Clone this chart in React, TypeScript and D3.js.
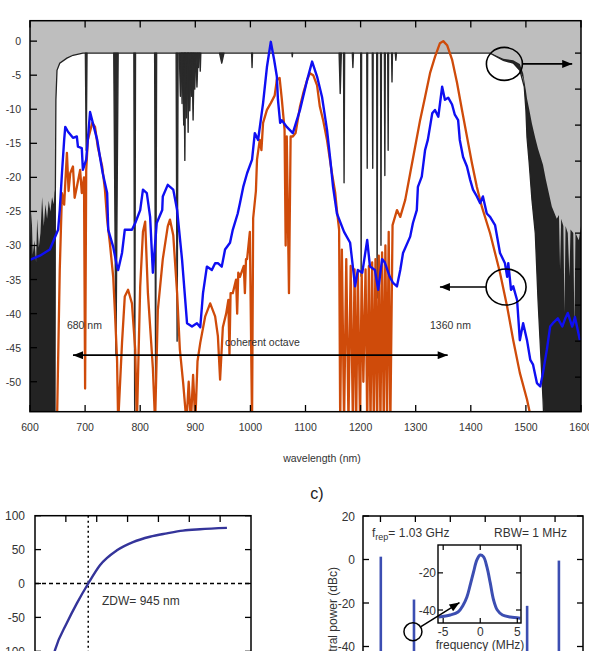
import React from 'react';
import * as d3 from 'd3';

// ---- main spectrum: wavelength (nm) vs power (dB) ----
const measured: [number, number][] = [
  [600, -32.1], [618, -31.5], [636, -30.6], [651, -27.7], [654, -24.8], [658, -19.4], [662, -14.5], [664, -12.6],
  [669, -13.3], [678, -14.2], [685, -14], [687, -15.5], [694, -15.7], [696, -18.9], [702, -17.4], [709, -10.4],
  [714, -12], [722, -14.5], [727, -17], [732, -19.4], [740, -22.3], [742, -27.7], [751, -30.2], [758, -33.1],
  [760, -33.6], [767, -31.1], [772, -27.7], [785, -27.7], [791, -26.7], [800, -24.8], [805, -21.8], [812, -22.3],
  [818, -25.8], [823, -34], [830, -26.7], [840, -24.8], [841, -22.8], [850, -21.1], [860, -21.8], [867, -24.8],
  [876, -32.1], [885, -41.4], [894, -41.9], [903, -41.4], [909, -42], [914, -37], [921, -33.1], [930, -33.6],
  [936, -32.6], [941, -32.6], [948, -33.1], [954, -30.6], [963, -29.6], [968, -27.7], [977, -25.3], [981, -23.8],
  [987, -21.4], [994, -19.4], [1003, -17.4], [1008, -13.5], [1014, -14.5], [1023, -9.1], [1030, -3.8], [1037, -0.1],
  [1043, -2.7], [1048, -5.2], [1050, -8.6], [1054, -12], [1057, -11.6], [1066, -12.6], [1077, -13.5], [1090, -10.1],
  [1103, -5.7], [1112, -3], [1121, -5.2], [1130, -8.2], [1139, -13], [1145, -17.4], [1150, -21.4], [1157, -25.3],
  [1170, -28], [1181, -29.6], [1190, -36], [1195, -33.6], [1203, -34], [1212, -29.2], [1217, -33.1], [1226, -33.6],
  [1232, -36.5], [1239, -32], [1244, -32.5], [1253, -34.6], [1259, -35.5], [1266, -36], [1272, -33.6], [1277, -31.1],
  [1290, -28.7], [1295, -26.7], [1302, -24.8], [1304, -21.4], [1311, -19.9], [1317, -16], [1322, -14.5], [1330, -10.6],
  [1335, -10.1], [1341, -11.1], [1348, -6.7], [1353, -8.6], [1359, -8.3], [1366, -9.3], [1371, -10.8], [1377, -11.6],
  [1380, -14.5], [1386, -17], [1393, -18.4], [1399, -20.4], [1404, -21.8], [1411, -22.8], [1417, -23.8], [1422, -22.8],
  [1429, -25.3], [1435, -25.8], [1444, -27], [1453, -31.1], [1462, -32.6], [1466, -34.6], [1468, -32.6], [1473, -36.5],
  [1477, -36], [1484, -38], [1489, -43.9], [1495, -41.4], [1502, -43.9], [1508, -46.8], [1513, -47.5], [1520, -50.2],
  [1526, -50.7], [1531, -48.7], [1538, -45.3], [1544, -41.9], [1549, -41.4], [1558, -40.7], [1566, -41.9], [1571, -40.8],
  [1576, -39.9], [1584, -41.9], [1589, -40.5], [1598, -43.9],
];

const simulated: [number, number][] = [
  [649, -56], [654, -33.6], [658, -22.3], [662, -24], [667, -16.4], [670, -22], [673, -19.4], [678, -18.4],
  [681, -23], [685, -21.4], [691, -18.9], [694, -22.3], [698, -20], [700, -51], [702, -19], [705, -14.5],
  [713, -12], [718, -12.6], [723, -15.5], [731, -18.4], [736, -21.8], [740, -26.2], [745, -29.7], [751, -34.6],
  [754, -39.5], [758, -46.8], [760, -56], [767, -44.3], [772, -37.5], [778, -36.5], [785, -38.5], [791, -45.3],
  [794, -56], [800, -36], [805, -28], [809, -26.5], [814, -37], [823, -48], [827, -56], [832, -39.5],
  [841, -32], [850, -27.2], [854, -26.2], [860, -28.5], [867, -37], [872, -45.3], [878, -50.2], [884, -56],
  [888, -50], [892, -56], [896, -49], [900, -56], [904, -47], [909, -44.3], [918, -40.4], [927, -38.5],
  [936, -40.4], [941, -43.3], [945, -49.7], [950, -42], [956, -40], [960, -38], [962, -46], [964, -37],
  [968, -37], [974, -35], [976, -40], [978, -34], [981, -34.6], [988, -33], [990, -37], [992, -32],
  [994, -32], [999, -28], [1003, -56], [1005, -26], [1010, -22], [1012, -17.4], [1017, -14.5], [1020, -16],
  [1023, -12], [1030, -10.1], [1037, -9.1], [1044, -8], [1048, -5.7], [1053, -5.4], [1057, -8.5], [1062, -13],
  [1064, -30], [1066, -14], [1070, -37], [1073, -14], [1077, -14], [1082, -13.5], [1090, -9.6], [1096, -7.6],
  [1103, -5.7], [1108, -4.7], [1114, -5], [1121, -6.5], [1126, -9.6], [1132, -11.6], [1139, -14.5], [1148, -19.4],
  [1154, -22.3], [1157, -24.8], [1161, -27.7], [1163, -56], [1166, -30.6], [1170, -56], [1174, -32], [1178, -56],
  [1182, -33], [1186, -56], [1189, -33.5], [1192, -56], [1195, -34], [1199, -56], [1202, -34], [1205, -50],
  [1209, -33.5], [1212, -56], [1215, -33], [1218, -56], [1221, -32.5], [1224, -56], [1227, -32], [1230, -56],
  [1233, -31.5], [1236, -56], [1239, -31], [1242, -56], [1245, -30], [1248, -56], [1251, -28], [1254, -56],
  [1258, -27], [1266, -24.8], [1272, -25.8], [1281, -23.3], [1290, -19.4], [1299, -15.5], [1308, -11.6], [1317, -8.2],
  [1326, -4.7], [1335, -2.3], [1344, -0.3], [1350, 0], [1357, -0.6], [1366, -2.7], [1375, -6.1], [1384, -10.1],
  [1393, -14], [1402, -17.9], [1411, -21.4], [1420, -24.3], [1435, -28.2], [1453, -34], [1466, -39], [1477, -43.9],
  [1489, -48.7], [1502, -52.6], [1511, -56],
];

// fibre transmission, right axis (dB)
const transmission: [number, number][] = [
  [645, -52], [646, -20], [647, -6.5], [649, -2.4], [654, -1.4], [667, -0.7], [678, -0.3], [696, 0],
  [1435, 0], [1459, -1.0], [1477, -1.4], [1489, -2.4], [1497, -4.7], [1500, -7.9], [1502, -11.7], [1506, -15.3],
  [1511, -20.4], [1517, -25], [1522, -34.3], [1531, -48], [1533, -52],
];

// noisy edges of the transmission: [wl, top]
const leftNoise: [number, number][] = [
  [600, -27], [603, -22], [605, -28], [608, -26], [611, -29], [613, -23], [616, -27], [619, -25],
  [622, -20], [625, -24], [628, -21], [631, -23], [634, -20.5], [637, -22], [640, -20], [643, -21],
  [645, -19], [646, -20],
];
// [wl, low, high]
const rightNoise: [number, number, number][] = [
  [1435, 0, 0], [1459, -1.0, -0.8], [1477, -1.4, -1.0], [1489, -2.4, -1.5], [1495, -3.5, -2.8], [1497, -4.7, -3.8],
  [1500, -7.9, -5.2], [1502, -11.7, -6.3], [1506, -15.3, -7.8], [1511, -20.4, -9.8], [1517, -25, -11.8],
  [1522, -34.3, -13.3], [1531, -48, -15.5], [1536, -52, -17.5], [1547, -52, -21.3], [1556, -52, -23],
  [1560, -52, -22.5], [1562, -52, -30], [1564, -52, -23], [1568, -52, -24], [1570, -52, -36], [1572, -52, -24],
  [1576, -52, -25], [1579, -52, -31], [1581, -52, -24.5], [1586, -52, -25], [1588, -52, -38], [1590, -52, -25],
  [1596, -52, -26], [1600, -52, -24],
];

// absorption dips: [wl, depth (right axis dB), half width nm]
const dips: [number, number, number][] = [
  [702, -13.5, 1.5], [756, -42, 4], [790, -50, 1.5], [828, -46, 1.8], [867, -40, 1.8],
  [873, -6, 2], [876, -7, 1.5], [879, -10, 2], [881, -14.9, 1.5], [884, -9, 2.5], [887, -11, 1.5],
  [890, -8, 2.5], [893, -6, 1.5], [896, -9.3, 2], [899, -5, 2], [903, -4.7, 2], [906, -2, 1.5], [909, -2.5, 1],
  [948, -1.4, 4], [1003, -2, 0.8], [1076, -0.5, 0.6],
  [1163, -5.6, 2], [1170, -18, 1], [1186, -2, 1], [1201, -31, 0.8], [1212, -16, 0.8], [1222, -16, 0.8],
  [1230, -34, 0.8], [1237, -26.7, 0.8], [1244, -17, 0.8], [1250, -13.5, 0.8], [1257, -4, 0.8], [1264, -1, 1],
];

const wlTicks = [600, 700, 800, 900, 1000, 1100, 1200, 1300, 1400, 1500, 1600];
const dbTicks = [0, -5, -10, -15, -20, -25, -30, -35, -40, -45, -50];
const rightTicks = [0, -5, -10, -15, -20, -25, -30, -35, -40, -45];

// ---- dispersion ----
const dispersion: [number, number][] = [
  [700, -125], [730, -98], [807, -58], [872, -29], [945, 0], [1021, 27], [1131, 49], [1235, 61],
  [1345, 69], [1455, 74], [1559, 78], [1669, 80], [1844, 82],
];
const dispXTicks = [800, 1000, 1200, 1400, 1600, 1800];
const dispYTicks = [100, 50, 0, -50, -100];
const zdw = 945;

// ---- RF spectrum ----
const rfPeaks: [number, number][] = [[201, 1.3], [296, -18.4], [620, -21.3], [711, -0.5]];
const rfXTicks = [200, 300, 400, 500, 600, 700];
const rfYTicks = [20, 0, -20, -40];
const beat: [number, number][] = [
  [-5.6, -43.8], [-4.05, -42.7], [-3.0, -41.1], [-2.3, -37.3], [-1.8, -33], [-1.35, -26.5], [-0.9, -19.5],
  [-0.45, -13], [0, -10.4], [0.45, -11.4], [0.9, -16.8], [1.35, -25.4], [1.8, -34.6], [2.3, -40],
  [3.0, -42.7], [4.05, -43.8], [5.4, -44.4],
];
const insetXTicks = [-5, 0, 5];
const insetYTicks = [-20, -40];

const font = 'Liberation Sans, Arial, sans-serif';
const txt = '#333';

const App: React.FC = () => {
  // main plot
  const x = d3.scaleLinear().domain([600, 1600]).range([30, 581]);
  const y = d3.scaleLinear().domain([-54.4, 3]).range([411.7, 20.7]);
  const yR = d3.scaleLinear().domain([-49.8, 4.5]).range([411.7, 20.7]);
  const line = d3.line<[number, number]>().x(d => x(d[0])).y(d => y(d[1]));
  const transLine = d3.line<[number, number]>().x(d => x(d[0])).y(d => yR(d[1]));
  const transArea = d3.area<[number, number]>().x(d => x(d[0])).y0(yR(-52)).y1(d => yR(d[1]));
  const leftArea = d3.area<[number, number]>().x(d => x(d[0])).y0(yR(-52)).y1(d => yR(d[1]));
  const rightArea = d3.area<[number, number, number]>().x(d => x(d[0])).y0(d => yR(d[1])).y1(d => yR(d[2]));

  // dispersion plot
  const dx = d3.scaleLinear().domain([600, 2000]).range([35, 251]);
  const dy = d3.scaleLinear().domain([-150, 100]).range([685.2, 515.7]);
  const dLine = d3.line<[number, number]>().x(d => dx(d[0])).y(d => dy(d[1])).curve(d3.curveMonotoneX);

  // RF plot
  const rx = d3.scaleLinear().domain([150, 780]).range([363, 583]);
  const ry = d3.scaleLinear().domain([-80, 20]).range([733.5, 516]);
  const ix = d3.scaleLinear().domain([-5.7, 5.5]).range([438, 521]);
  const iy = d3.scaleLinear().domain([-47, -5]).range([623, 545]);
  const iLine = d3.line<[number, number]>().x(d => ix(d[0])).y(d => iy(d[1])).curve(d3.curveCatmullRom);

  const blue = '#0f0ff2';
  const orange = '#cf4b0a';
  const navy = '#34349a';
  const rfBlue = '#3c4eb2';

  return (
    <svg width={589} height={651} style={{ position: 'absolute', left: 0, top: 0 }} fontFamily={font}>
      <defs>
        <clipPath id="mainClip"><rect x={30} y={20.7} width={551} height={391} /></clipPath>
        <clipPath id="dispClip"><rect x={35} y={515.7} width={216} height={170} /></clipPath>
        <clipPath id="insetClip"><rect x={438} y={545} width={83} height={78} /></clipPath>
        <marker id="arrow" viewBox="0 0 10 8" refX={10} refY={4} markerWidth={11} markerHeight={8}
          markerUnits="userSpaceOnUse" orient="auto-start-reverse">
          <path d="M0,0 L10,4 L0,8 Z" fill="#000" />
        </marker>
      </defs>

      {/* ---------- main spectrum ---------- */}
      <rect x={30} y={20.7} width={551} height={391} fill="#bebebe" />
      <g clipPath="url(#mainClip)">
        <path d={transArea(transmission) ?? ''} fill="#fff" />
        <path d={leftArea(leftNoise) ?? ''} fill="#232323" />
        <path d={rightArea(rightNoise) ?? ''} fill="#232323" />
        {dips.map((d, i) => (
          <path key={i}
            d={`M${x(d[0] - d[2])},${yR(0)} L${x(d[0])},${yR(d[1])} L${x(d[0] + d[2])},${yR(0)} Z`}
            fill="#2a2a2a" stroke="#2a2a2a" strokeWidth={1.4} strokeLinejoin="round" />
        ))}
        <path d={transLine(transmission) ?? ''} fill="none" stroke="#222" strokeWidth={1.3} />
        <path d={line(simulated) ?? ''} fill="none" stroke={orange} strokeWidth={2.3} strokeLinejoin="round" />
        <path d={line(measured) ?? ''} fill="none" stroke={blue} strokeWidth={2.4} strokeLinejoin="round" />
      </g>
      <rect x={30} y={20.7} width={551} height={391} fill="none" stroke="#000" strokeWidth={1.5} />
      {wlTicks.map(t => (
        <g key={t}>
          <line x1={x(t)} x2={x(t)} y1={411.7} y2={405} stroke="#000" strokeWidth={1.3} />
          <line x1={x(t)} x2={x(t)} y1={20.7} y2={27.4} stroke="#000" strokeWidth={1.3} />
          <text x={x(t)} y={431} textAnchor="middle" fontSize={10.5} fill={txt}>{t}</text>
        </g>
      ))}
      {dbTicks.map(t => (
        <g key={t}>
          <line x1={30} x2={37} y1={y(t)} y2={y(t)} stroke="#000" strokeWidth={1.3} />
          <text x={21} y={y(t) + 4} textAnchor="end" fontSize={10.5} fill={txt}>{t}</text>
        </g>
      ))}
      {rightTicks.map(t => (
        <line key={t} x1={581} x2={575} y1={yR(t)} y2={yR(t)} stroke="#000" strokeWidth={1.3} />
      ))}
      <text x={322} y={462} textAnchor="middle" fontSize={10.5} fill={txt}>wavelength (nm)</text>

      {/* annotations */}
      <ellipse cx={x(1461)} cy={yR(-1.5)} rx={18} ry={16.5} fill="none" stroke="#000" strokeWidth={1.6} />
      <line x1={x(1461) + 18} x2={x(1584)} y1={yR(-1.5)} y2={yR(-1.5)} stroke="#000" strokeWidth={1.6} markerEnd="url(#arrow)" />
      <ellipse cx={x(1464)} cy={y(-36.1)} rx={20} ry={18} fill="none" stroke="#000" strokeWidth={1.6} />
      <line x1={x(1464) - 20} x2={x(1344)} y1={y(-36.1)} y2={y(-36.1)} stroke="#000" strokeWidth={1.6} markerEnd="url(#arrow)" />
      <line x1={x(678)} x2={x(1358)} y1={y(-46.1)} y2={y(-46.1)} stroke="#000" strokeWidth={1.8}
        markerStart="url(#arrow)" markerEnd="url(#arrow)" />
      <text x={x(667)} y={y(-42.2)} fontSize={10.5} fill={txt}>680 nm</text>
      <text x={x(1326)} y={y(-42.2)} fontSize={10.5} fill={txt}>1360 nm</text>
      <text x={x(954)} y={y(-44.7)} fontSize={10.5} fill={txt}>coherent octave</text>

      <text x={317} y={499} textAnchor="middle" fontSize={16} fill="#222">c)</text>

      {/* ---------- dispersion ---------- */}
      <g clipPath="url(#dispClip)">
        <line x1={35} x2={251} y1={dy(0)} y2={dy(0)} stroke="#000" strokeWidth={1.5} strokeDasharray="4,3" />
        <line x1={dx(zdw)} x2={dx(zdw)} y1={515.7} y2={690} stroke="#000" strokeWidth={1.5} strokeDasharray="2,3" />
        <path d={dLine(dispersion) ?? ''} fill="none" stroke={navy} strokeWidth={2.4} />
      </g>
      <rect x={35} y={515.7} width={216} height={170} fill="none" stroke="#000" strokeWidth={1.5} />
      {dispXTicks.map(t => (
        <line key={t} x1={dx(t)} x2={dx(t)} y1={515.7} y2={522} stroke="#000" strokeWidth={1.3} />
      ))}
      {dispYTicks.map(t => (
        <g key={t}>
          <line x1={35} x2={41} y1={dy(t)} y2={dy(t)} stroke="#000" strokeWidth={1.3} />
          <line x1={251} x2={245} y1={dy(t)} y2={dy(t)} stroke="#000" strokeWidth={1.3} />
          <text x={25} y={dy(t) + 4.5} textAnchor="end" fontSize={12} fill={txt}>{t}</text>
        </g>
      ))}
      <text x={102} y={604.5} fontSize={12} fill={txt}>ZDW= 945 nm</text>

      {/* ---------- RF spectrum ---------- */}
      <rect x={363} y={516} width={220} height={220} fill="none" stroke="#000" strokeWidth={1.5} />
      {rfPeaks.map((p, i) => (
        <line key={i} x1={rx(p[0])} x2={rx(p[0])} y1={ry(p[1])} y2={ry(-80)} stroke={rfBlue} strokeWidth={2.6} />
      ))}
      {rfXTicks.map(t => (
        <line key={t} x1={rx(t)} x2={rx(t)} y1={516} y2={522} stroke="#000" strokeWidth={1.3} />
      ))}
      {rfYTicks.map(t => (
        <g key={t}>
          <line x1={363} x2={369} y1={ry(t)} y2={ry(t)} stroke="#000" strokeWidth={1.3} />
          <line x1={583} x2={577} y1={ry(t)} y2={ry(t)} stroke="#000" strokeWidth={1.3} />
          <text x={355} y={ry(t) + 4.5} textAnchor="end" fontSize={12} fill={txt}>{t}</text>
        </g>
      ))}
      <text x={372} y={537} fontSize={12} fill={txt}>
        f<tspan fontSize={9} dy={3}>rep</tspan><tspan dy={-3}>= 1.03 GHz</tspan>
      </text>
      <text x={567} y={537} textAnchor="end" fontSize={12} fill={txt}>RBW= 1 MHz</text>
      <text transform="translate(337,567) rotate(-90)" textAnchor="end" fontSize={12} fill={txt}>spectral power (dBc)</text>

      {/* inset */}
      <rect x={438} y={545} width={83} height={78} fill="#fff" />
      <g clipPath="url(#insetClip)">
        <path d={iLine(beat) ?? ''} fill="none" stroke={rfBlue} strokeWidth={3} />
      </g>
      <rect x={438} y={545} width={83} height={78} fill="none" stroke="#000" strokeWidth={1.4} />
      {insetXTicks.map(t => (
        <g key={t}>
          <line x1={ix(t)} x2={ix(t)} y1={623} y2={618} stroke="#000" strokeWidth={1.2} />
          <line x1={ix(t)} x2={ix(t)} y1={545} y2={550} stroke="#000" strokeWidth={1.2} />
          <text x={ix(t)} y={636} textAnchor="middle" fontSize={12} fill={txt}>{t}</text>
        </g>
      ))}
      {insetYTicks.map(t => (
        <g key={t}>
          <line x1={438} x2={443} y1={iy(t)} y2={iy(t)} stroke="#000" strokeWidth={1.2} />
          <line x1={521} x2={516} y1={iy(t)} y2={iy(t)} stroke="#000" strokeWidth={1.2} />
          <text x={436} y={iy(t) + 4.5} textAnchor="end" fontSize={12} fill={txt}>{t}</text>
        </g>
      ))}
      <text x={480} y={649} textAnchor="middle" fontSize={12} fill={txt}>frequency (MHz)</text>
      <circle cx={rx(293)} cy={ry(-33.2)} r={9} fill="none" stroke="#000" strokeWidth={1.5} />
      <line x1={rx(293) + 8} x2={ix(-2.8)} y1={ry(-33.2) - 5} y2={iy(-36)} stroke="#000" strokeWidth={1.5} markerEnd="url(#arrow)" />
    </svg>
  );
};

export default App;
